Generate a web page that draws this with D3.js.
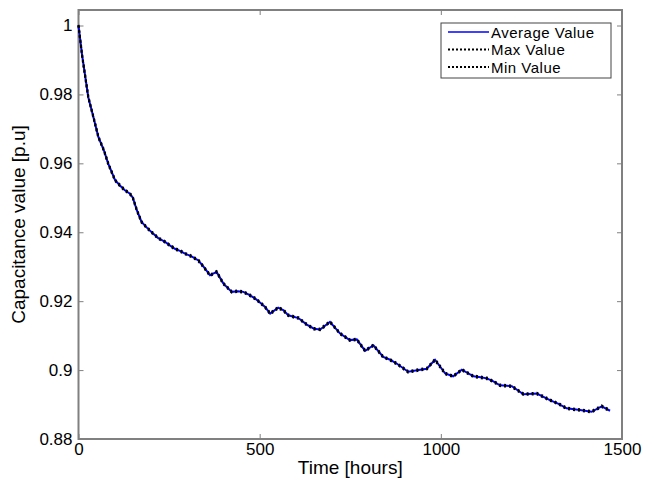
<!DOCTYPE html>
<html><head><meta charset="utf-8">
<script src="https://cdn.jsdelivr.net/npm/d3@7"></script>
<style>body{margin:0;background:#fff}svg{display:block;font-family:"Liberation Sans",Arial,sans-serif}</style>
</head><body>
<script>
const hours = [0,10,27,40,55,70,82,101,115,128,142,150,161,174,190,202,220,239,252,266,280,294,312,331,345,363,381,400,423,440,455,470,487,500,515,529,551,565,579,607,630,650,667,694,722,749,768,791,814,841,860,878,910,943,961,984,1012,1034,1058,1090,1110,1127,1145,1163,1196,1228,1265,1301,1325,1347,1384,1416,1444,1467];
const avgValues = [1.0000,0.9913,0.9792,0.9739,0.9676,0.9638,0.9599,0.9551,0.9535,0.9522,0.9512,0.9500,0.9464,0.9430,0.9412,0.9400,0.9383,0.9372,0.9362,0.9352,0.9346,0.9338,0.9330,0.9318,0.9300,0.9275,0.9285,0.9251,0.9227,0.9229,0.9227,0.9219,0.9208,0.9197,0.9183,0.9164,0.9181,0.9174,0.9159,0.9151,0.9132,0.9120,0.9118,0.9140,0.9106,0.9087,0.9089,0.9056,0.9072,0.9038,0.9030,0.9019,0.8995,0.9001,0.9004,0.9030,0.8990,0.8982,0.9001,0.8982,0.8979,0.8976,0.8967,0.8956,0.8953,0.8930,0.8932,0.8913,0.8902,0.8889,0.8884,0.8879,0.8895,0.8882];
const maxValues = [1.0002,0.9915,0.9794,0.9741,0.9678,0.9640,0.9601,0.9553,0.9537,0.9524,0.9514,0.9502,0.9466,0.9432,0.9414,0.9402,0.9385,0.9374,0.9364,0.9354,0.9348,0.9340,0.9332,0.9320,0.9302,0.9277,0.9287,0.9253,0.9229,0.9231,0.9229,0.9221,0.9210,0.9199,0.9185,0.9166,0.9183,0.9176,0.9161,0.9153,0.9134,0.9122,0.9120,0.9142,0.9108,0.9089,0.9091,0.9058,0.9074,0.9040,0.9032,0.9021,0.8997,0.9003,0.9006,0.9032,0.8992,0.8984,0.9003,0.8984,0.8981,0.8978,0.8969,0.8958,0.8955,0.8932,0.8934,0.8915,0.8904,0.8891,0.8886,0.8881,0.8897,0.8884];
const minValues = [0.9998,0.9911,0.9790,0.9737,0.9674,0.9636,0.9597,0.9549,0.9533,0.9520,0.9510,0.9498,0.9462,0.9428,0.9410,0.9398,0.9381,0.9370,0.9360,0.9350,0.9344,0.9336,0.9328,0.9316,0.9298,0.9273,0.9283,0.9249,0.9225,0.9227,0.9225,0.9217,0.9206,0.9195,0.9181,0.9162,0.9179,0.9172,0.9157,0.9149,0.9130,0.9118,0.9116,0.9138,0.9104,0.9085,0.9087,0.9054,0.9070,0.9036,0.9028,0.9017,0.8993,0.8999,0.9002,0.9028,0.8988,0.8980,0.8999,0.8980,0.8977,0.8974,0.8965,0.8954,0.8951,0.8928,0.8930,0.8911,0.8900,0.8887,0.8882,0.8877,0.8893,0.8880];
const xTicks = [0,500,1000,1500];
const yTicks = [0.88,0.9,0.92,0.94,0.96,0.98,1];
const seriesNames = ["Average Value","Max Value","Min Value"];
const xLabel = "Time [hours]";
const yLabel = "Capacitance value [p.u]";

const W = 646, H = 487;
const L = 78.5, R = 622, T = 10, B = 439;
const svg = d3.select("body").append("svg").attr("width", W).attr("height", H);
const x = d3.scaleLinear().domain([0,1500]).range([L,R]);
const y = d3.scaleLinear().domain([0.88,1.0045]).range([B,T]);
const axisColor = "#808080";

function styleAxis(g){
  g.select(".domain").remove();
  g.selectAll(".tick line").attr("stroke", axisColor).attr("stroke-width", 1);
  g.selectAll(".tick text").attr("fill","#000").style("font-size","17px").style("font-family","'Liberation Sans',Arial,sans-serif");
}
svg.append("g").attr("transform",`translate(0,${B})`)
  .call(d3.axisBottom(x).tickValues(xTicks).tickSizeInner(-5).tickSizeOuter(0).tickPadding(4).tickFormat(d=>String(d)))
  .call(styleAxis);
svg.append("g").attr("transform",`translate(0,${T})`)
  .call(d3.axisTop(x).tickValues(xTicks).tickSizeInner(-5).tickSizeOuter(0).tickFormat(""))
  .call(styleAxis);
svg.append("g").attr("transform",`translate(${L},0)`)
  .call(d3.axisLeft(y).tickValues(yTicks).tickSizeInner(-5).tickSizeOuter(0).tickPadding(6).tickFormat(d=>String(d)))
  .call(styleAxis);
svg.append("g").attr("transform",`translate(${R},0)`)
  .call(d3.axisRight(y).tickValues(yTicks).tickSizeInner(-5).tickSizeOuter(0).tickFormat(""))
  .call(styleAxis);

svg.append("rect").attr("x",L).attr("y",T).attr("width",R-L).attr("height",B-T)
  .attr("fill","none").attr("stroke",axisColor).attr("stroke-width",2);

const line = vals => d3.line().x((d,i)=>x(hours[i])).y(d=>y(d))(vals);
svg.append("path").attr("d",line(avgValues)).attr("fill","none").attr("stroke","#0000ff").attr("stroke-width",2);
svg.append("path").attr("d",line(maxValues)).attr("fill","none").attr("stroke","#000").attr("stroke-width",2.2).attr("stroke-dasharray","2,3");
svg.append("path").attr("d",line(minValues)).attr("fill","none").attr("stroke","#000").attr("stroke-width",2.2).attr("stroke-dasharray","2,3");

svg.append("text").attr("x",(L+R)/2).attr("y",474).attr("text-anchor","middle")
  .style("font-size","19px").text(xLabel);
svg.append("text").attr("transform",`translate(25,${(T+B)/2}) rotate(-90)`).attr("text-anchor","middle")
  .style("font-size","19px").text(yLabel);

// legend
const lg = svg.append("g");
lg.append("rect").attr("x",441).attr("y",23).attr("width",170).attr("height",55)
  .attr("fill","#fff").attr("stroke","#444").attr("stroke-width",1);
const styles = [{c:"#0000ff",d:null},{c:"#000",d:"2,2"},{c:"#000",d:"2,2"}];
seriesNames.forEach((n,i)=>{
  const yy = 32 + i*17.5;
  lg.append("line").attr("x1",448).attr("x2",489).attr("y1",yy).attr("y2",yy)
    .attr("stroke",styles[i].c).attr("stroke-width",styles[i].d?2:1.5).attr("stroke-dasharray",styles[i].d);
  lg.append("text").attr("x",491).attr("y",yy+5.5).style("font-size","15px").style("letter-spacing","0.5px").text(n);
});
</script>
</body></html>
